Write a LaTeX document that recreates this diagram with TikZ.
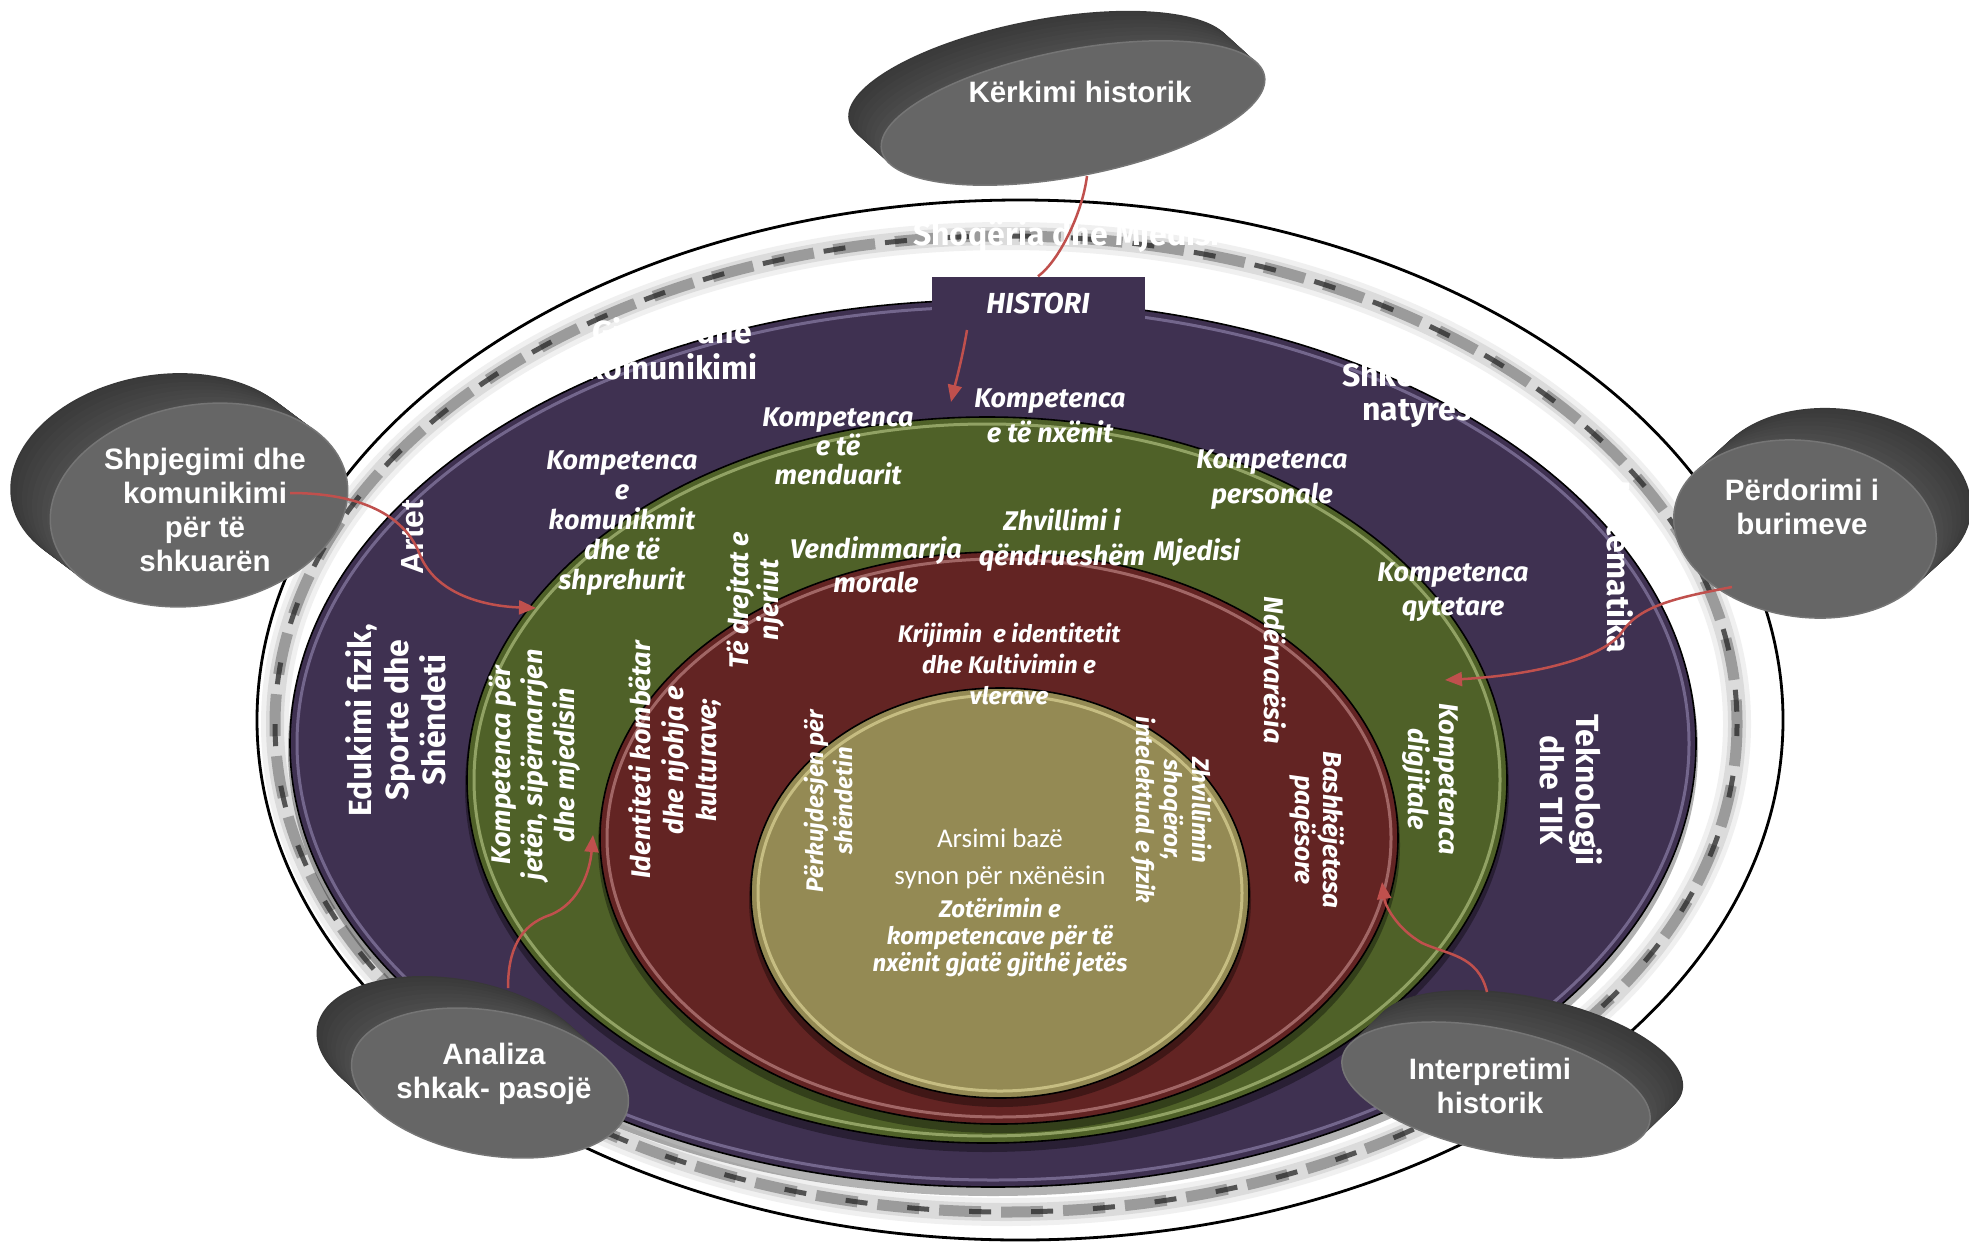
\documentclass[tikz,border=0pt]{standalone}
\usepackage{fontspec}
\setmainfont{Liberation Sans}
\newfontfamily\firafont{Fira Sans}
\newfontfamily\carfont{Carlito}
\usetikzlibrary{arrows.meta}
\definecolor{purp}{HTML}{3F3151}
\definecolor{purphl}{HTML}{A89CC8}
\definecolor{grn}{HTML}{4F6128}
\definecolor{grnhl}{HTML}{D4E4A0}
\definecolor{rd}{HTML}{632423}
\definecolor{rdhl}{HTML}{E0A8A8}
\definecolor{tanc}{HTML}{948A54}
\definecolor{tanhl}{HTML}{F0E8A8}
\definecolor{arrowred}{HTML}{C0504D}

\newcommand{\drawdisk}[7]{%
  \foreach \k in {24,23,...,1}{%
    \pgfmathtruncatemacro{\shd}{70+\k/3}%
    \fill[black!\shd] ({#1+#6*\k/24},{#2+#7*\k/24}) circle[x radius=#3, y radius=#4, rotate=#5];%
  }%
  \fill[black!60] (#1,#2) circle[x radius=#3, y radius=#4, rotate=#5];%
  \draw[black!54, line width=1.5pt] (#1,#2) circle[x radius=#3, y radius=#4, rotate=#5];%
}

\tikzset{
  ptxt/.style={text=white, align=center, inner sep=0pt, font=\firafont\bfseries\fontsize{32}{#1}\selectfont},
  ptxt/.default=36,
  gtxt/.style={text=white, align=center, inner sep=0pt, font=\firafont\bfseries\itshape\fontsize{27}{#1}\selectfont},
  gtxt/.default=30,
  gsm/.style={text=white, align=center, inner sep=0pt, font=\firafont\bfseries\itshape\fontsize{24}{#1}\selectfont},
  gsm/.default=27,
  btxt/.style={text=white, align=center, inner sep=0pt, font=\bfseries\fontsize{29.5}{34}\selectfont},
  ctxt/.style={text=white, align=center, inner sep=0pt, font=\carfont\fontsize{27}{32}\selectfont},
  conn/.style={draw=arrowred, line width=2.5pt},
  tipped/.style={-{Triangle[length=17pt,width=14pt]}},
  ringedge/.style={draw=black, line width=1.6pt},
}

\begin{document}
\begin{tikzpicture}[x=1pt,y=-1pt]
\useasboundingbox (0,0) rectangle (1969,1242);
\fill[white] (0,0) rectangle (1969,1242);

% outer white ellipse
\draw[black, line width=2.8pt, fill=white] (1020,720) ellipse (763 and 520);
% blurred shadow band
\draw[black!6, line width=28pt] (1006,724) ellipse (731 and 488);
\draw[black!14, line width=18pt] (1006,724) ellipse (731 and 488);
\draw[black!50, line width=11pt, dash pattern=on 42pt off 20pt, opacity=0.7] (1006,724) ellipse (731 and 488);
\draw[black!85, line width=5pt, dash pattern=on 22pt off 40pt, dash phase=10pt, opacity=0.75] (1006,724) ellipse (731 and 488);

% purple ring
\fill[black, opacity=0.3] (993,750) ellipse (705 and 446);
\fill[purp] (993,743.5) ellipse (703 and 443.5);
\draw[ringedge] (993,743.5) ellipse (703 and 443.5);
\draw[purphl, line width=3pt, opacity=0.5] (993,743.5) ellipse (696 and 436.5);

% green ring
\fill[black, opacity=0.35] (987,787) ellipse (522 and 365);
\fill[grn] (987,780) ellipse (520 and 363);
\draw[ringedge] (987,780) ellipse (520 and 363);
\draw[grnhl, line width=3pt, opacity=0.5] (987,780) ellipse (513 and 356);

% red ring
\fill[black, opacity=0.35] (999,845) ellipse (401 and 288);
\fill[rd] (999,838) ellipse (399 and 286);
\draw[ringedge] (999,838) ellipse (399 and 286);
\draw[rdhl, line width=3pt, opacity=0.5] (999,838) ellipse (392 and 279);

% core
\fill[black, opacity=0.35] (1000,900) ellipse (251 and 207);
\fill[tanc] (1000,893) ellipse (249 and 205);
\draw[ringedge] (1000,893) ellipse (249 and 205);
\draw[tanhl, line width=3pt, opacity=0.55] (1000,893) ellipse (242 and 198);

% outer ring / purple ring subject texts
\node[ptxt, anchor=west] (shoqeria) at (913,236) {Shoqëria dhe Mjedisi};
\node[ptxt] (gjuhet) at (672,349) {Gjuhët dhe\\komunikimi};
\begin{scope}
  \clip (1330,350) rectangle (1421,393);
  \node[ptxt, anchor=west] (shkencat) at (1342,375) {Shkencat e};
\end{scope}
\node[ptxt] (natyres) at (1417,411) {natyrës};
\node[ptxt, rotate=-90] (matematika) at (1620,567) {Matematika};
\node[ptxt, rotate=-90] (teknologji) at (1571,790) {Teknologji\\dhe TIK};
\node[ptxt=37, rotate=90] (edukimi) at (396,720) {Edukimi fizik,\\Sporte dhe\\Shëndeti};
\node[text=white, inner sep=0pt, font=\bfseries\fontsize{32}{36}\selectfont, rotate=90] (artet) at (413,537) {Artet};

% HISTORI box
\node[fill=purp, minimum width=213pt, minimum height=53pt, inner sep=0pt, text=white,
      font=\firafont\bfseries\itshape\fontsize{29}{32}\selectfont] (histori) at (1038,303) {HISTORI};

% green ring texts
\node[gtxt] (kkom) at (622,523) {Kompetenca\\e\\komunikmit\\dhe të\\shprehurit};
\node[gtxt=29] (kmen) at (838,446) {Kompetenca\\e të\\menduarit};
\node[gtxt=35] (knx) at (1050,416) {Kompetenca\\e të nxënit};
\node[gtxt=35] (kper) at (1272,480) {Kompetenca\\personale};
\node[gtxt=34] (kqyt) at (1453,592) {Kompetenca\\qytetare};
\node[gtxt=35] (zhv) at (1062,540) {Zhvillimi i\\qëndrueshëm};
\node[gtxt] (mjed) at (1197,553) {Mjedisi};
\node[gtxt=34] (vend) at (876,565) {Vendimmarrja\\morale};
\node[gtxt=30, rotate=90] (drejt) at (756,600) {Të drejtat e\\njeriut};
\node[gtxt=32, rotate=90] (kjet) at (535,765) {Kompetenca për\\jetën, sipërmarrjen\\dhe mjedisin};
\node[gtxt=31, rotate=-90] (kdig) at (1430,779) {Kompetenca\\digjitale};

% red ring texts
\node[gtxt=33, rotate=90] (ident) at (675,760) {Identiteti kombëtar\\dhe njohja e\\kulturave;};
\node[gsm=29, rotate=90] (perk) at (828,801) {Përkujdesjen për\\shëndetin};
\node[gsm=31] (krij) at (1009,664) {Krijimin\ \ e identitetit\\dhe Kultivimin e\\vlerave};
\node[gtxt, rotate=-90] (nderv) at (1275,670) {Ndërvarësia};
\node[gsm=28, rotate=-90] (zhvsh) at (1172,810) {Zhvillimin\\shoqëror,\\intelektual e fizik};
\node[text=white, align=center, inner sep=0pt, font=\firafont\bfseries\itshape\fontsize{26}{28}\selectfont, rotate=-90] (bash) at (1317,830) {Bashkëjetesa\\paqësore};

% core texts
\node[ctxt] (arsimi) at (1000,838) {Arsimi bazë};
\node[ctxt] (synon) at (1000,877) {synon për nxënësin};
\node[gsm=27] (zoter) at (1000,937) {Zotërimin e\\kompetencave për të\\nxënit gjatë gjithë jetës};

% 3D bubbles
\drawdisk{1073}{113}{195}{63}{11}{-33}{-30}
\drawdisk{199}{505}{150}{100}{10}{-40}{-30}
\drawdisk{1805}{529}{132}{88}{-8}{35}{-32}
\drawdisk{490}{1083}{140}{72}{-10}{-35}{-32}
\drawdisk{1496}{1090}{157}{61}{-12}{33}{-32}

\node[btxt] (kerkimi) at (1080,92) {Kërkimi historik};
\node[btxt] (shpjegimi) at (205,510) {Shpjegimi dhe\\komunikimi\\për të\\shkuarën};
\node[btxt] (perdorimi) at (1802,507) {Përdorimi i\\burimeve};
\node[btxt] (analiza) at (494,1074) {Analiza\\shkak- pasojë};
\node[btxt] (interpretimi) at (1490,1086) {Interpretimi\\historik};

% connector end points
\coordinate (kerkimiOut) at (1087,176);
\coordinate (histOut) at (967,330);
\coordinate (histIn) at (951,402);
\coordinate (shpOut) at (290,493);
\coordinate (shpIn) at (536,608);
\coordinate (perOut) at (1732,587);
\coordinate (perIn) at (1445,680);
\coordinate (anaOut) at (508,988);
\coordinate (anaIn) at (593,835);
\coordinate (intOut) at (1487,992);
\coordinate (intIn) at (1382,882);

% connectors
\draw[conn] (kerkimiOut) .. controls (1082,215) and (1058,262) .. (histori.north);
\draw[conn, tipped] (histOut) .. controls (962,360) and (955,385) .. (histIn);
\draw[conn, tipped] (shpOut) .. controls (360,493) and (405,515) .. (420,555)
   .. controls (435,592) and (480,606) .. (shpIn);
\draw[conn, tipped] (perOut) .. controls (1680,597) and (1640,605) .. (1622,632)
   .. controls (1600,662) and (1520,676) .. (perIn);
\draw[conn, tipped] (anaOut) .. controls (508,950) and (520,925) .. (550,915)
   .. controls (580,903) and (590,870) .. (anaIn);
\draw[conn, tipped] (intOut) .. controls (1478,955) and (1448,955) .. (1422,943)
   .. controls (1396,928) and (1385,905) .. (intIn);
\end{tikzpicture}
\end{document}
